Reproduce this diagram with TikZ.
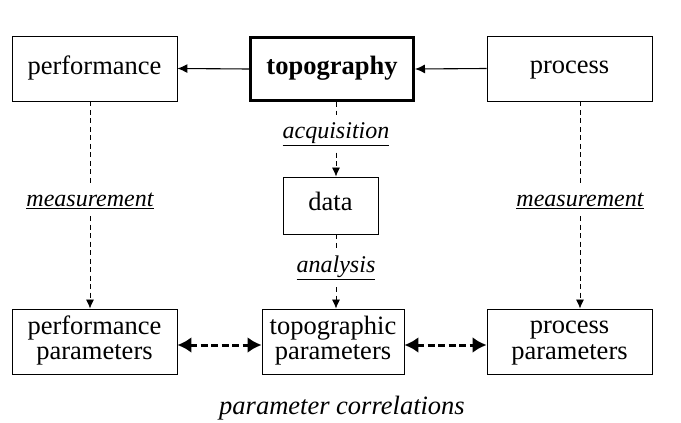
\documentclass[tikz,border=0pt]{standalone}
\usepackage{fontspec}
\setmainfont{Liberation Serif}
\usetikzlibrary{arrows.meta}
\begin{document}
\begin{tikzpicture}[x=1pt,y=-1pt,
  box/.style={draw, line width=0.9pt, minimum width=165pt, minimum height=65pt,
    align=center, inner sep=0pt, font=\fontsize{26.5}{25.5}\selectfont},
  lbl/.style={inner xsep=0pt, inner ysep=7pt, font=\fontsize{24}{26}\selectfont\itshape},
  solidarrow/.style={line width=1.1pt, -{Latex[length=10pt,width=9pt]}},
  dasharrow/.style={line width=0.8pt, dash pattern=on 5pt off 3.5pt, -{Latex[length=9pt,width=8pt]}},
  dashline/.style={line width=0.8pt, dash pattern=on 5pt off 3.5pt},
  corr/.style={line width=3pt, dash pattern=on 7pt off 3.5pt,
    {Latex[length=14pt,width=16pt]}-{Latex[length=14pt,width=16pt]}}]
\useasboundingbox (0,0) rectangle (681,423);
% top row
\node[box] (perf) at (94.5,68.5) {\strut performance};
\node[box, line width=3pt, minimum width=163pt, minimum height=63pt, font=\fontsize{26.5}{25.5}\selectfont\bfseries] (topo) at (332,69) {\strut topography};
\node[box] (proc) at (569.5,68.5) {\strut process};
% middle
\node[box, minimum width=95pt, minimum height=57pt] (data) at (330.5,205.5) {\strut data};
% bottom row
\node[box] (perfpar) at (94.5,341.5) {\strut performance\\\strut parameters};
\node[box, minimum width=142pt] (topopar) at (333,341.5) {\strut topographic\\\strut parameters};
\node[box] (procpar) at (569.5,341.5) {\strut process\\\strut parameters};
% labels
\node[lbl] (m1) at (90,201) {\underline{measurement}};
\node[lbl] (m2) at (580,201) {\underline{measurement}};
\node[lbl] (acq) at (336,134) {\underline{acquisition}};
\node[lbl] (ana) at (336,268) {\underline{analysis}};
\node[font=\fontsize{26.5}{28}\selectfont\itshape] (pc) at (342,408) {parameter correlations};
% solid arrows
\draw[solidarrow] (topo.west) -- (perf.east);
\draw[solidarrow] (proc.west) -- (topo.east);
% dashed connectors
\draw[dashline] (perf.south -| m1) -- (m1.north);
\draw[dasharrow] (m1.south) -- (perfpar.north -| m1);
\draw[dashline] (proc.south -| m2) -- (m2.north);
\draw[dasharrow] (m2.south) -- (procpar.north -| m2);
\draw[dashline] (topo.south -| acq) -- (acq.north);
\draw[dasharrow] (acq.south) -- (data.north -| acq);
\draw[dashline] (data.south -| ana) -- (ana.north);
\draw[dasharrow] (ana.south) -- (topopar.north -| ana);
% correlations
\draw[corr] ([yshift=-3.5pt]perfpar.east) -- ([yshift=-3.5pt]topopar.west);
\draw[corr] ([yshift=-3.5pt]topopar.east) -- ([yshift=-3.5pt]procpar.west);
\end{tikzpicture}
\end{document}
